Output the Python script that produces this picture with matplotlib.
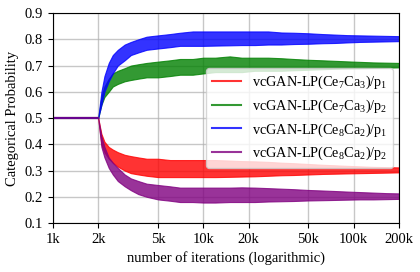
import matplotlib
matplotlib.use('Agg')
import matplotlib.pyplot as plt
from matplotlib.ticker import NullLocator

plt.rcParams['font.family'] = ['Liberation Serif', 'DejaVu Serif']
plt.rcParams['mathtext.fontset'] = 'custom'
plt.rcParams['mathtext.rm'] = 'Liberation Serif'
plt.rcParams['mathtext.it'] = 'Liberation Serif:italic'

## flat start (all series equal)
flat_iters = [1000, 2000]
flat_vals = [0.5, 0.5]

## band samples (upper / lower edge of the noisy line)
iters = [2000, 2100, 2200, 2350, 2500, 2700, 3000, 3300, 3700, 4200,
         5000, 6000, 7000, 8500, 10000, 12000, 15000, 18000, 22000, 27000,
         33000, 40000, 50000, 62000, 75000, 90000, 110000, 135000, 165000, 200000]

red_hi = [0.5, 0.44, 0.41, 0.39, 0.38, 0.37, 0.36, 0.355, 0.35, 0.345,
          0.345, 0.34, 0.34, 0.34, 0.34, 0.34, 0.338, 0.336, 0.335, 0.333,
          0.33, 0.328, 0.325, 0.322, 0.32, 0.318, 0.316, 0.314, 0.313, 0.312]
red_lo = [0.5, 0.40, 0.37, 0.345, 0.33, 0.315, 0.30, 0.29, 0.285, 0.28,
          0.275, 0.275, 0.275, 0.275, 0.275, 0.275, 0.276, 0.277, 0.278, 0.28,
          0.282, 0.283, 0.285, 0.287, 0.288, 0.289, 0.29, 0.291, 0.292, 0.293]

green_hi = [0.5, 0.58, 0.62, 0.65, 0.67, 0.68, 0.69, 0.70, 0.705, 0.71,
            0.715, 0.72, 0.725, 0.725, 0.73, 0.73, 0.735, 0.73, 0.73, 0.73,
            0.728, 0.725, 0.722, 0.72, 0.718, 0.716, 0.714, 0.712, 0.711, 0.71]
green_lo = [0.5, 0.55, 0.58, 0.60, 0.62, 0.63, 0.64, 0.645, 0.65, 0.655,
            0.655, 0.66, 0.665, 0.665, 0.67, 0.675, 0.675, 0.675, 0.68, 0.68,
            0.68, 0.682, 0.684, 0.686, 0.688, 0.689, 0.69, 0.691, 0.692, 0.693]

blue_hi = [0.5, 0.60, 0.66, 0.71, 0.74, 0.76, 0.78, 0.79, 0.80, 0.81,
           0.815, 0.82, 0.825, 0.83, 0.83, 0.83, 0.83, 0.83, 0.83, 0.83,
           0.826, 0.825, 0.823, 0.82, 0.818, 0.816, 0.815, 0.814, 0.813, 0.812]
blue_lo = [0.5, 0.55, 0.60, 0.64, 0.67, 0.70, 0.72, 0.74, 0.75, 0.76,
           0.765, 0.77, 0.775, 0.775, 0.775, 0.776, 0.777, 0.778, 0.778, 0.78,
           0.78, 0.782, 0.783, 0.785, 0.786, 0.788, 0.79, 0.791, 0.792, 0.793]

purple_hi = [0.5, 0.43, 0.39, 0.35, 0.33, 0.31, 0.285, 0.27, 0.26, 0.25,
             0.245, 0.24, 0.235, 0.235, 0.235, 0.235, 0.235, 0.236, 0.235, 0.233,
             0.231, 0.229, 0.226, 0.224, 0.222, 0.22, 0.218, 0.216, 0.214, 0.213]
purple_lo = [0.5, 0.39, 0.35, 0.31, 0.285, 0.26, 0.24, 0.225, 0.21, 0.20,
             0.19, 0.185, 0.18, 0.18, 0.178, 0.178, 0.18, 0.18, 0.18, 0.182,
             0.183, 0.184, 0.186, 0.187, 0.188, 0.189, 0.19, 0.19, 0.191, 0.192]

labels = ['vcGAN-LP(Ce$_7$Ca$_3$)/p$_1$', 'vcGAN-LP(Ce$_7$Ca$_3$)/p$_2$',
          'vcGAN-LP(Ce$_8$Ca$_2$)/p$_1$', 'vcGAN-LP(Ce$_8$Ca$_2$)/p$_2$']
colors = ['red', 'green', 'blue', 'purple']

x_ticks = [1000, 2000, 5000, 10000, 20000, 50000, 100000, 200000]
x_tick_labels = ['1k', '2k', '5k', '10k', '20k', '50k', '100k', '200k']
y_ticks = [0.1, 0.2, 0.3, 0.4, 0.5, 0.6, 0.7, 0.8, 0.9]


def main():
    fig = plt.figure(figsize=(4.2, 2.72), dpi=100)
    ax = fig.add_axes([0.126, 0.18, 0.824, 0.772])

    bands = [(red_hi, red_lo), (green_hi, green_lo),
             (blue_hi, blue_lo), (purple_hi, purple_lo)]
    for (hi, lo), c, lab in zip(bands, colors, labels):
        ax.plot(flat_iters, flat_vals, color=c, alpha=0.8, lw=1.5, label=lab)
        ax.fill_between(iters, lo, hi, color=c, alpha=0.8, lw=0.8)

    ax.set_xscale('log')
    ax.set_xlim(1000, 200000)
    ax.set_ylim(0.1, 0.9)
    ax.set_xticks(x_ticks)
    ax.set_xticklabels(x_tick_labels)
    ax.xaxis.set_minor_locator(NullLocator())
    ax.set_yticks(y_ticks)
    ax.set_yticklabels(['%.1f' % v for v in y_ticks])
    ax.tick_params(labelsize=10.5)
    ax.grid(True, color='#b0b0b0', lw=1, alpha=0.7)
    ax.set_axisbelow(True)

    ax.set_xlabel('number of iterations (logarithmic)', fontsize=10.5)
    ax.set_ylabel('Categorical Probability', fontsize=10.5)
    ax.legend(loc='center right', fontsize=10.3, framealpha=0.8,
              labelspacing=0.45, borderaxespad=0.4)

    fig.savefig('out.png', dpi=100)


if __name__ == '__main__':
    main()
